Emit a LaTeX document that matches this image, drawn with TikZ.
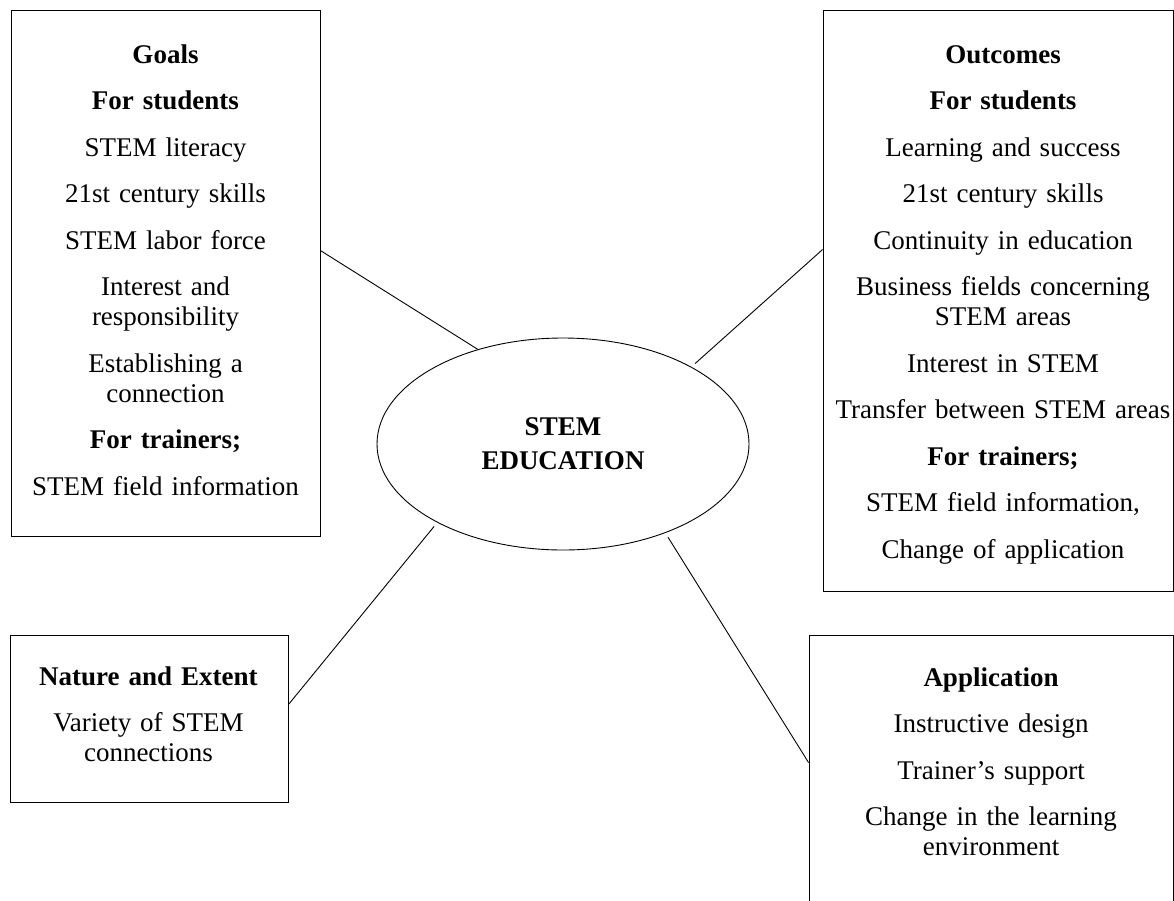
\documentclass[tikz,border=0pt]{standalone}
\usepackage{fontspec}
\setmainfont{Liberation Serif}
\usetikzlibrary{shapes.geometric}
\tikzset{
  box/.style={draw=black, line width=0.9pt, rectangle, inner sep=0pt},
  txt/.style={anchor=base, align=center, inner sep=0pt, text width=#1,
              font=\fontsize{27}{30}\selectfont},
  conn/.style={draw=black, line width=0.9pt},
}
\newcommand{\psk}{\\[16.5pt]}
\begin{document}
\begin{tikzpicture}[x=1pt,y=-1pt]
\clip (0,0) rectangle (1174,900);
\useasboundingbox (0,0) rectangle (1174,900);

% boxes
\node[box, minimum width=309pt, minimum height=526pt] (goals) at (165.5,273) {};
\node[box, minimum width=350pt, minimum height=581pt] (outcomes) at (998,300.5) {};
\node[box, minimum width=278pt, minimum height=167pt] (nature) at (149,718.5) {};
\node[box, minimum width=364pt, minimum height=325pt] (app) at (991,797.5) {};

% centre ellipse
\node[draw=black, line width=0.9pt, ellipse, minimum width=372pt, minimum height=212pt,
      inner sep=0pt, align=center, font=\fontsize{27}{34}\selectfont\bfseries]
      (stem) at (563,444) {STEM\\EDUCATION};

% texts
\node[txt=300pt] (goalstext) at (165.5,63) {\textbf{Goals}\psk
  \textbf{For students}\psk
  STEM literacy\psk
  21st century skills\psk
  STEM labor force\psk
  Interest and\\responsibility\psk
  Establishing a\\connection\psk
  \textbf{For trainers;}\psk
  STEM field information};

\node[txt=345pt] (outtext) at (1003,63) {\textbf{Outcomes}\psk
  \textbf{For students}\psk
  Learning and success\psk
  21st century skills\psk
  Continuity in education\psk
  Business fields concerning\\STEM areas\psk
  Interest in STEM\psk
  Transfer between STEM areas\psk
  \textbf{For trainers;}\psk
  STEM field information,\psk
  Change of application};

\node[txt=270pt] (naturetext) at (148.5,685) {\textbf{Nature and Extent}\psk
  Variety of STEM\\connections};

\node[txt=355pt] (apptext) at (991,686) {\textbf{Application}\psk
  Instructive design\psk
  Trainer’s support\psk
  Change in the learning\\environment};

% connectors
\draw[conn] ([yshift=-241pt]goals.north east) -- (stem.132.5);
\draw[conn, shorten >=5pt] ([yshift=-240pt]outcomes.north west) -- (stem.31.9);
\draw[conn, shorten >=5pt] ([yshift=-70pt]nature.north east) -- (stem.212.8);
\draw[conn, shorten >=5pt] ([yshift=-128pt]app.north west) -- (stem.319.3);
\end{tikzpicture}
\end{document}
